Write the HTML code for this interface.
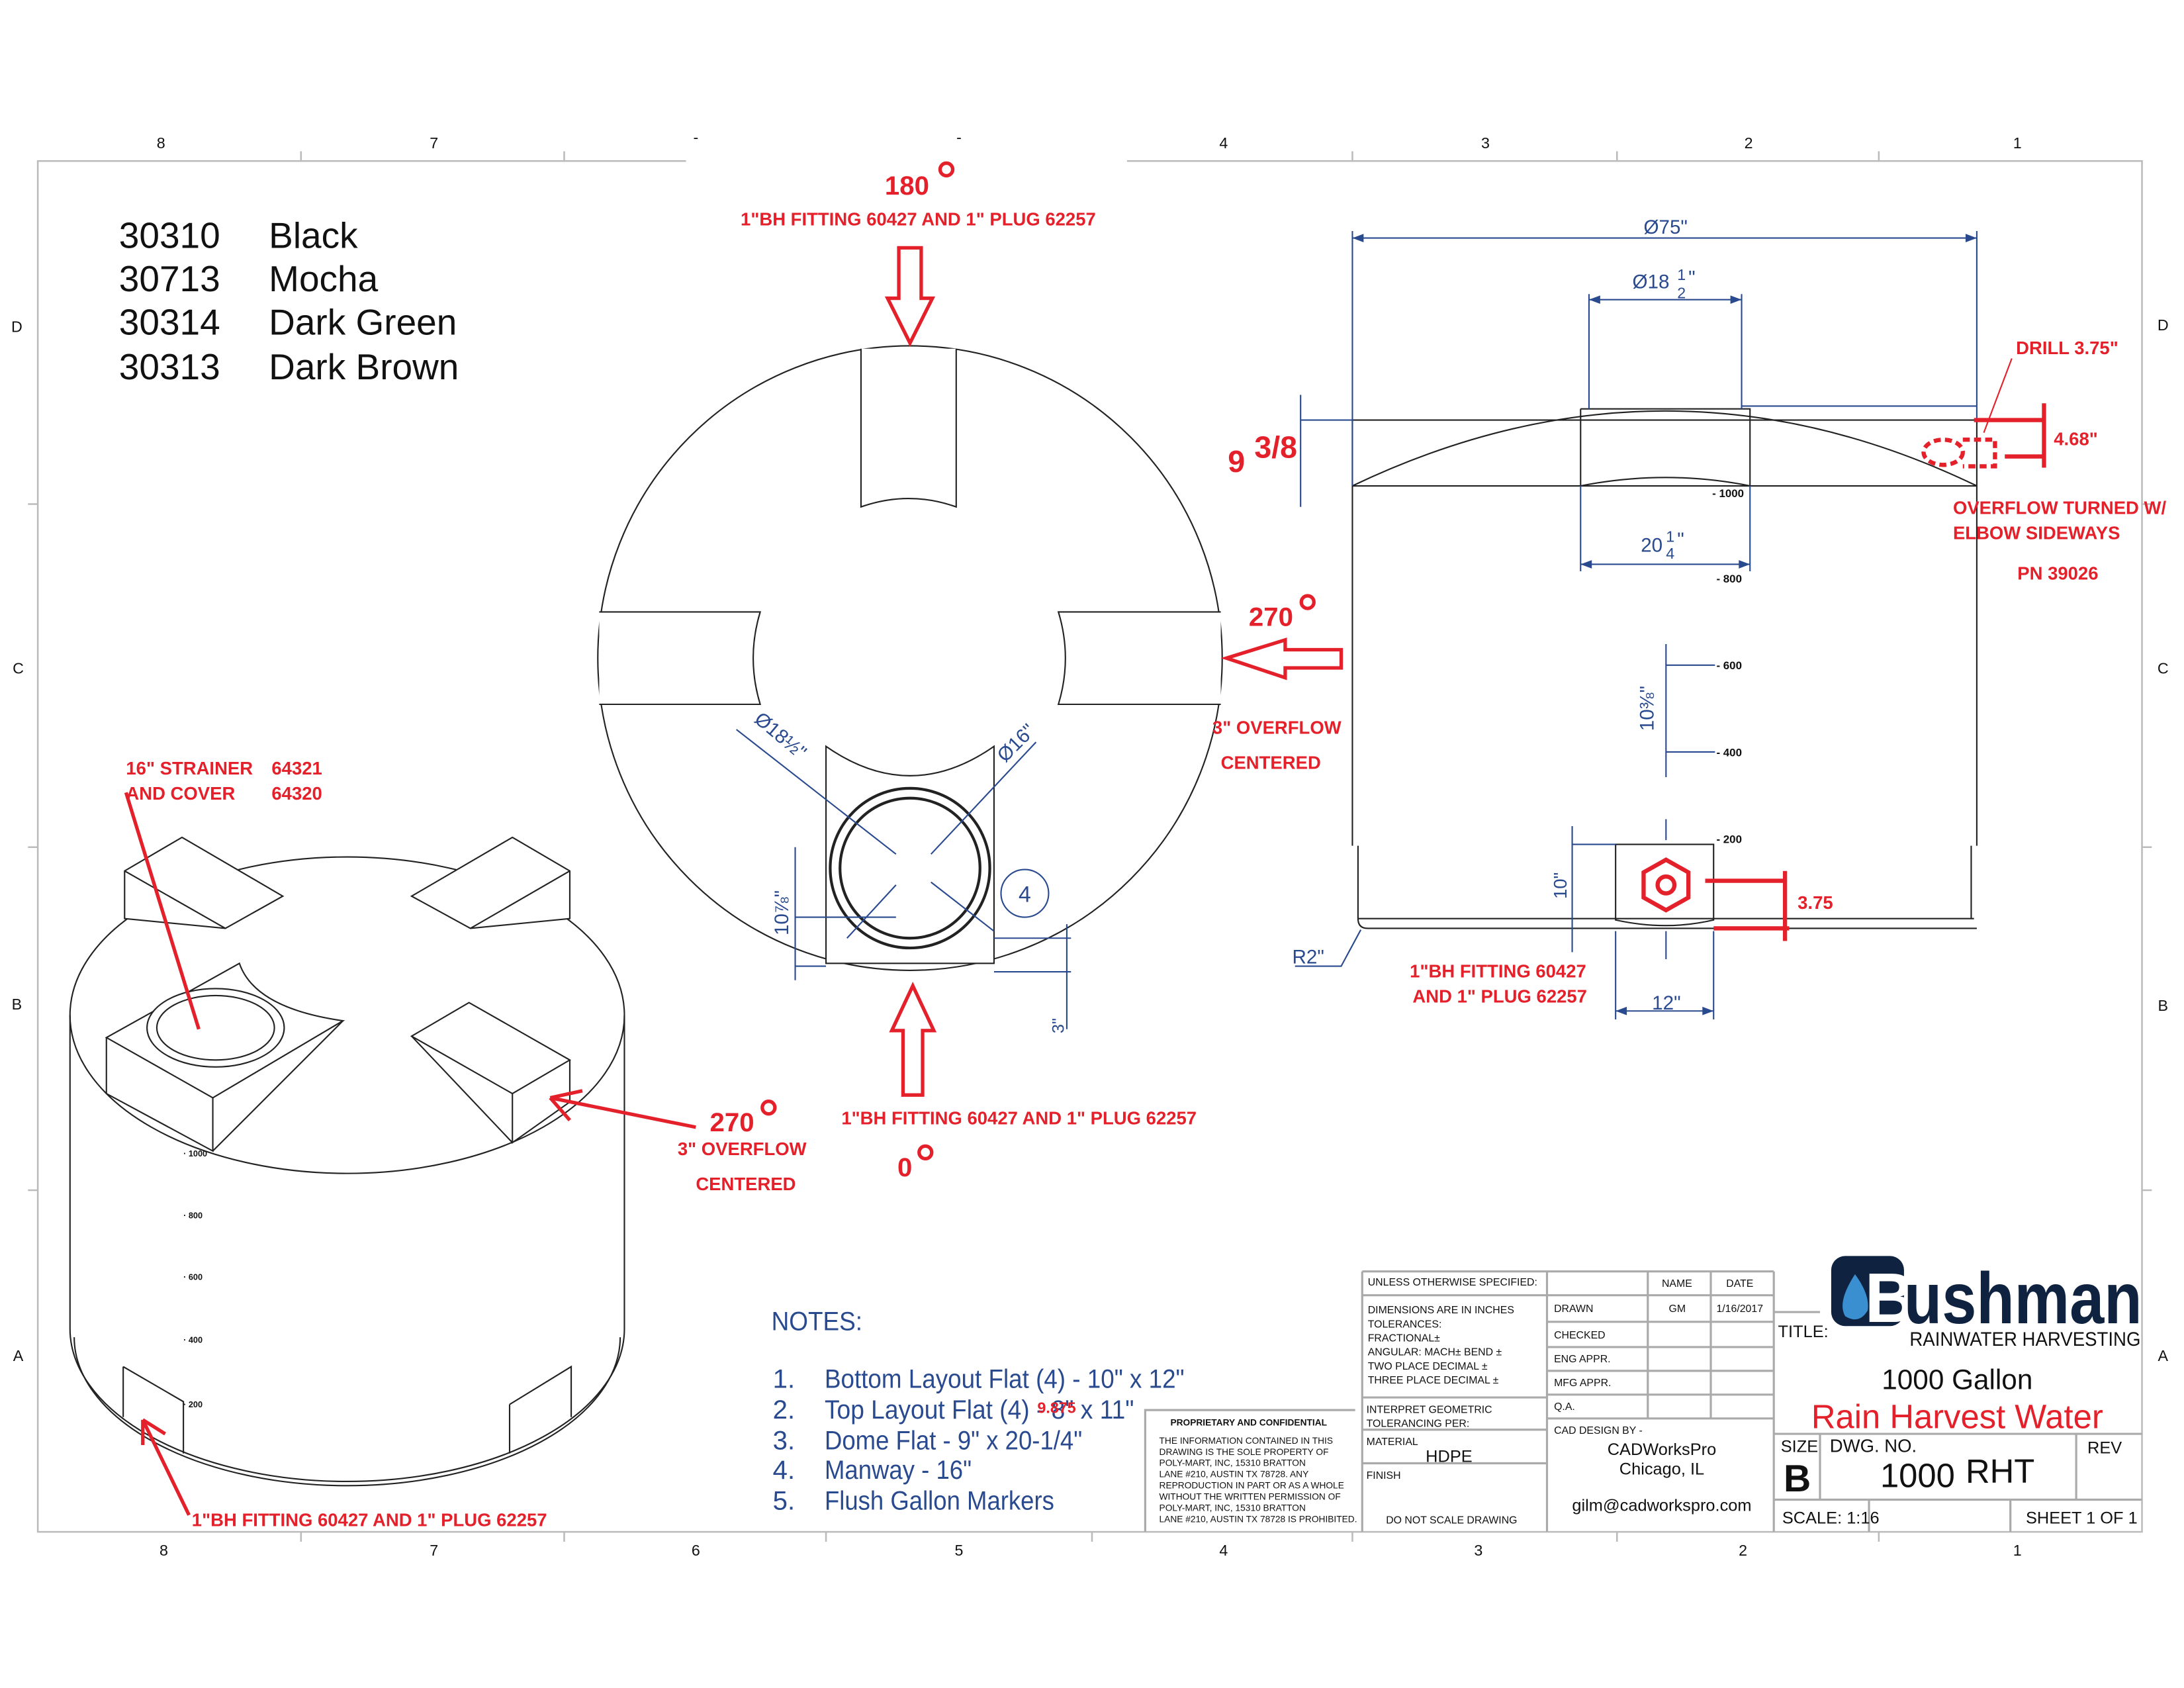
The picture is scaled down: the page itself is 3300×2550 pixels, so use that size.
<!DOCTYPE html>
<html><head><meta charset="utf-8">
<style>
html,body{margin:0;padding:0;background:#fff;}
svg{display:block;}
.r{fill:#e4202a;font-family:"Liberation Sans",sans-serif;font-weight:bold;}
.b{fill:#2a4a8f;font-family:"Liberation Sans Narrow","Liberation Sans",sans-serif;}
.k{fill:#111;font-family:"Liberation Sans Narrow","Liberation Sans",sans-serif;}
</style></head><body>
<svg width="3300" height="2550" viewBox="0 0 1560 1205.5" preserveAspectRatio="none" xmlns="http://www.w3.org/2000/svg">
<rect width="1560" height="1205.5" fill="#fff"/>
<!-- border -->
<g stroke="#bbb" stroke-width="1.2" fill="none">
<path d="M490 115 H27 V1094 H1530 V115 H805"/>
<path d="M215 108 V115 M403 108 V115 M966 108 V115 M1155 108 V115 M1342 108 V115 M215 1094 V1101 M403 1094 V1101 M590 1094 V1101 M780 1094 V1101 M966 1094 V1101 M1155 1094 V1101 M1342 1094 V1101 M20 360 H27 M20 605 H27 M20 850 H27 M1530 360 H1537 M1530 605 H1537 M1530 850 H1537"/>
</g>
<g class="k" font-size="11" text-anchor="middle" fill="#333">
<text x="115" y="106">8</text><text x="310" y="106">7</text><text x="497" y="102">-</text><text x="685" y="102">-</text><text x="874" y="106">4</text><text x="1061" y="106">3</text><text x="1249" y="106">2</text><text x="1441" y="106">1</text>
<text x="117" y="1111">8</text><text x="310" y="1111">7</text><text x="497" y="1111">6</text><text x="685" y="1111">5</text><text x="874" y="1111">4</text><text x="1056" y="1111">3</text><text x="1245" y="1111">2</text><text x="1441" y="1111">1</text>
<text x="12" y="237">D</text><text x="13" y="481">C</text><text x="12" y="721">B</text><text x="13" y="972">A</text>
<text x="1545" y="236">D</text><text x="1545" y="481">C</text><text x="1545" y="722">B</text><text x="1545" y="972">A</text>
</g>
<!-- color list -->
<g class="k" font-size="26" fill="#111">
<text x="85" y="177">30310</text><text x="192" y="177">Black</text>
<text x="85" y="208">30713</text><text x="192" y="208">Mocha</text>
<text x="85" y="239">30314</text><text x="192" y="239">Dark Green</text>
<text x="85" y="271">30313</text><text x="192" y="271">Dark Brown</text>
</g>

<!-- circle plan view -->
<g stroke="#222" stroke-width="1" fill="none">
<circle cx="650" cy="470" r="223"/>
<path d="M615 249 V362 Q649 350 683 362 V249" fill="#fff"/>
<path d="M428 437 H543 Q533 470 543 503 H428" fill="#fff"/>
<path d="M872 437 H756 Q766 470 756 503 H872" fill="#fff"/>
<path d="M590 533 Q650 575 710 533 V688 H590 Z" fill="#fff"/>
<circle cx="650" cy="620" r="57" stroke-width="2"/>
<circle cx="650" cy="620" r="50" stroke-width="2"/>
</g>
<g stroke="#2a4a8f" stroke-width="1" fill="none">
<path d="M526 521 L640 610 M665 630 L710 665 M665 610 L740 530 M605 670 L640 632"/>
<path d="M568 655 H640 M568 690 H590 M568 605 V700 M710 670 H765 M710 694 H765 M762 660 V735"/>
<circle cx="732" cy="638" r="17"/>
</g>
<text class="b" x="732" y="644" font-size="16" text-anchor="middle">4</text>
<text class="b" font-size="14" transform="translate(538,515) rotate(40)">Ø18½"</text>
<text class="b" font-size="14" transform="translate(718,545) rotate(-45)">Ø16"</text>
<text class="b" font-size="14" transform="translate(563,668) rotate(-90)">10⅞"</text>
<text class="b" font-size="12" transform="translate(760,738) rotate(-90)">3"</text>

<!-- red arrows plan -->
<g stroke="#e4202a" stroke-width="2.5" fill="none" stroke-linejoin="miter">
<path d="M642 177 H658 V213 H666 L650 245 L634 213 H642 Z"/>
<path d="M645 782 H659 V736 H667 L652 704 L637 736 H645 Z"/>
<path d="M958 464 V477 H918 V484 L876 470 L918 457 V464 Z"/>
</g>
<g class="r" font-size="19">
<text x="632" y="139">180</text><text x="892" y="447">270</text><text x="641" y="840">0</text>
</g>
<g stroke="#e4202a" stroke-width="2.5" fill="none">
<circle cx="676" cy="121" r="4.5"/><circle cx="934" cy="430" r="4.5"/><circle cx="661" cy="823" r="4.5"/><circle cx="549" cy="791" r="4.5"/>
</g>
<g class="r" font-size="13">
<text x="529" y="161">1"BH FITTING 60427 AND 1" PLUG 62257</text>
<text x="866" y="524">3" OVERFLOW</text><text x="872" y="549">CENTERED</text>
<text x="601" y="803">1"BH FITTING 60427 AND 1" PLUG 62257</text>
</g>

<!-- right elevation -->
<g stroke="#222" stroke-width="1" fill="none">
<path d="M966 300 H1412 M966 300 V347 M1412 300 V347"/>
<path d="M966 347 Q1190 240 1412 347"/>
<path d="M1129 292 H1250 V347 M1129 292 V347"/>
<path d="M1129 347 Q1190 335 1250 347"/>
<path d="M966 347 H1412 M966 347 V604 M1412 347 V604 M970 604 V656 Q970 663 977 663 H1412 M1408 604 V656 M970 656 H1410"/>
<path d="M1154 603 H1224 V657 Q1190 665 1154 657 Z"/>
</g>
<g stroke="#2a4a8f" stroke-width="1" fill="none">
<path d="M966 347 V165 M1412 300 V165 M966 170 H1412 M1244 290 H1412"/>
<path d="M1135 292 V210 M1244 292 V210 M1135 214 H1244"/>
<path d="M1129 347 V408 M1250 347 V408 M1129 403 H1250"/>
<path d="M1190 460 V555 M1190 475 H1225 M1190 537 H1225"/>
<path d="M1123 590 V680 M1123 603 H1154 M1190 585 V600 M1190 665 V685 M1154 665 V728 M1224 665 V728 M1154 722 H1224"/>
<path d="M929 282 V362 M929 300 H966"/>
<path d="M925 690 H958 L972 664"/>
</g>
<g fill="#2a4a8f">
<path d="M966 170 l8 -3 v6 z M1412 170 l-8 -3 v6z M1135 214 l8 -3 v6z M1244 214 l-8 -3 v6z M1129 403 l8 -3 v6z M1250 403 l-8 -3 v6z M1154 722 l8 -3 v6z M1224 722 l-8 -3 v6z"/>
</g>
<g class="b" font-size="14">
<text x="1174" y="167">Ø75"</text>
<text x="1166" y="206">Ø18</text><text x="1198" y="200" font-size="11">1</text><text x="1198" y="213" font-size="11">2</text><text x="1206" y="203">"</text>
<text x="1172" y="394">20</text><text x="1190" y="387" font-size="11">1</text><text x="1190" y="399" font-size="11">4</text><text x="1198" y="390">"</text>
<text x="1180" y="721">12"</text><text x="923" y="688">R2"</text>
</g>
<text class="b" font-size="14" transform="translate(1181,522) rotate(-90)">10⅜"</text>
<text class="b" font-size="13" transform="translate(1119,642) rotate(-90)">10"</text>
<g class="k" font-size="8" font-weight="bold">
<text x="1223" y="355">- 1000</text><text x="1226" y="416">- 800</text><text x="1226" y="478">- 600</text><text x="1226" y="540">- 400</text><text x="1226" y="602">- 200</text>
</g>
<!-- red details right -->
<g stroke="#e4202a" stroke-width="3" fill="none">
<polygon points="1190,614 1206,623 1206,641 1190,650 1174,641 1174,623"/>
<circle cx="1190" cy="632" r="6"/>
<path d="M1218 629 H1275 M1224 663 H1278 M1275 622 V672"/>
<path d="M1410 300 H1460 M1432 326 H1460 M1460 288 V334"/>
<ellipse cx="1388" cy="323" rx="14" ry="9" stroke-dasharray="5 3"/>
<path d="M1402 314 H1425 V333 H1402" stroke-dasharray="5 3"/>
</g>
<path d="M1417 309 L1437 256" stroke="#e4202a" stroke-width="1"/>
<g class="r" font-size="13">
<text x="1440" y="253">DRILL 3.75"</text><text x="1467" y="318">4.68"</text>
<text x="1395" y="367">OVERFLOW TURNED W/</text><text x="1395" y="385">ELBOW SIDEWAYS</text>
<text x="1441" y="414">PN 39026</text><text x="1284" y="649">3.75</text>
<text x="1007" y="698">1"BH FITTING 60427</text><text x="1009" y="716">AND 1" PLUG 62257</text>
</g>
<text class="r" x="877" y="337" font-size="22">9</text>
<text class="r" x="896" y="327" font-size="22">3/8</text>

<!-- 3D view -->
<g stroke="#222" stroke-width="1" fill="none">
<ellipse cx="248" cy="725" rx="198" ry="113" fill="#fff"/>
<path d="M50 725 V949 A198 109 0 0 0 446 949 V725"/>
<path d="M53 955 A195 106 0 0 0 443 955"/>
<path d="M89 656 L89 622 L130 598 L202 640 L161 663 Z" fill="#fff"/>
<path d="M89 622 L161 663"/>
<path d="M294 640 L366 598 L407 622 L407 656 L336 663 Z" fill="#fff"/>
<path d="M336 663 L407 622"/>
<path d="M76 741 L171 688 Q182 720 245 729 L152 784 Z" fill="#fff"/>
<path d="M76 741 V781 L152 822 V784 M152 822 L245 729"/>
<ellipse cx="154" cy="734" rx="49" ry="28" fill="#fff"/>
<ellipse cx="154" cy="734" rx="42" ry="23"/>
<path d="M294 740 L335 716 L407 757 L366 781 Z" fill="#fff"/>
<path d="M366 781 V816 L407 787 V757 M294 740 L366 816"/>
<path d="M88 976 V1012 M88 976 L131 1001 V1038 M364 1003 V1038 M364 1003 L408 976 V1012"/>
</g>
<g class="k" font-size="6" font-weight="bold">
<text x="131" y="826">· 1000</text><text x="131" y="870">· 800</text><text x="131" y="914">· 600</text><text x="131" y="959">· 400</text><text x="131" y="1005">· 200</text>
</g>
<g stroke="#e4202a" stroke-width="2.5" fill="none">
<path d="M90 566 L142 735"/>
<path d="M497 805 L393 784 M393 784 L416 779 M393 784 L407 800"/>
<path d="M135 1082 L102 1014 M102 1014 L118 1024 M102 1014 L102 1032"/>
</g>
<g class="r" font-size="13">
<text x="90" y="553">16" STRAINER</text><text x="194" y="553">64321</text>
<text x="90" y="571">AND COVER</text><text x="194" y="571">64320</text>
<text x="484" y="825">3" OVERFLOW</text><text x="497" y="850">CENTERED</text>
<text x="137" y="1090">1"BH FITTING 60427 AND 1" PLUG 62257</text>
</g>
<text class="r" x="507" y="808" font-size="19">270</text>

<!-- notes -->
<g class="b" font-size="19">
<text x="551" y="950" textLength="65" lengthAdjust="spacingAndGlyphs">NOTES:</text>
<text x="552" y="991">1.</text><text x="589" y="991" textLength="257" lengthAdjust="spacingAndGlyphs">Bottom Layout Flat (4) - 10" x 12"</text>
<text x="552" y="1013">2.</text><text x="589" y="1013" textLength="221" lengthAdjust="spacingAndGlyphs">Top Layout Flat (4) - 8" x 11"</text>
<text x="552" y="1035">3.</text><text x="589" y="1035" textLength="184" lengthAdjust="spacingAndGlyphs">Dome Flat - 9" x 20-1/4"</text>
<text x="552" y="1056">4.</text><text x="589" y="1056" textLength="105" lengthAdjust="spacingAndGlyphs">Manway - 16"</text>
<text x="552" y="1078">5.</text><text x="589" y="1078" textLength="164" lengthAdjust="spacingAndGlyphs">Flush Gallon Markers</text>
</g>
<text class="r" x="741" y="1009" font-size="11" font-weight="normal">9.875</text>

<!-- proprietary -->
<g stroke="#aaa" stroke-width="1.5" fill="none">
<path d="M818 1094 V1007 H968"/>
</g>
<g class="k" font-size="6.5" fill="#222">
<text x="836" y="1018" font-weight="bold">PROPRIETARY AND CONFIDENTIAL</text>
<text x="828" y="1031">THE INFORMATION CONTAINED IN THIS</text>
<text x="828" y="1039">DRAWING IS THE SOLE PROPERTY OF</text>
<text x="828" y="1047">POLY-MART, INC, 15310 BRATTON</text>
<text x="828" y="1055">LANE #210, AUSTIN TX 78728. ANY</text>
<text x="828" y="1063">REPRODUCTION IN PART OR AS A WHOLE</text>
<text x="828" y="1071">WITHOUT THE WRITTEN PERMISSION OF</text>
<text x="828" y="1079">POLY-MART, INC, 15310 BRATTON</text>
<text x="828" y="1087">LANE #210, AUSTIN TX 78728 IS PROHIBITED.</text>
</g>

<!-- title block -->
<g stroke="#aaa" stroke-width="1.5" fill="none">
<path d="M973 908 H1267 M973 908 V1094 M1105 908 V1094 M1177 908 V1013 M1222 908 V1013 M1267 908 V1094"/>
<path d="M973 925 H1105 M1105 925 H1267 M1105 944 H1267 M1105 962 H1267 M1105 979 H1267 M1105 996 H1267 M1105 1013 H1267"/>
<path d="M973 998 H1105 M973 1021 H1105 M973 1045 H1105"/>
<path d="M1267 1024 H1530 M1267 1071 H1530 M1300 1024 V1071 M1483 1024 V1071 M1335 1071 V1094 M1436 1071 V1094 M1267 937 H1300"/>
</g>
<g class="k" font-size="7.5" fill="#333">
<text x="977" y="918">UNLESS OTHERWISE SPECIFIED:</text>
<text x="1187" y="919">NAME</text><text x="1233" y="919">DATE</text>
<text x="977" y="938">DIMENSIONS ARE IN INCHES</text>
<text x="977" y="948">TOLERANCES:</text>
<text x="977" y="958">FRACTIONAL±</text>
<text x="977" y="968">ANGULAR: MACH±   BEND ±</text>
<text x="977" y="978">TWO PLACE DECIMAL   ±</text>
<text x="977" y="988">THREE PLACE DECIMAL  ±</text>
<text x="976" y="1009">INTERPRET GEOMETRIC</text>
<text x="976" y="1019">TOLERANCING PER:</text>
<text x="976" y="1032">MATERIAL</text>
<text x="976" y="1056">FINISH</text>
<text x="990" y="1088">DO NOT SCALE DRAWING</text>
<text x="1110" y="937">DRAWN</text><text x="1192" y="937">GM</text><text x="1226" y="937">1/16/2017</text>
<text x="1110" y="956">CHECKED</text><text x="1110" y="973">ENG APPR.</text><text x="1110" y="990">MFG APPR.</text><text x="1110" y="1007">Q.A.</text>
<text x="1110" y="1024">CAD DESIGN BY -</text>
</g>
<g class="k" font-size="12" fill="#222" text-anchor="middle">
<text x="1035" y="1044">HDPE</text>
<text x="1187" y="1039">CADWorksPro</text><text x="1187" y="1053">Chicago, IL</text>
<text x="1187" y="1079">gilm@cadworkspro.com</text>
</g>
<text class="k" x="1270" y="955" font-size="12">TITLE:</text>
<!-- logo -->
<rect x="1308" y="897" width="52" height="50" rx="10" fill="#0f2340"/>
<path d="M1325 910 Q1312 930 1318 940 Q1328 946 1334 936 Q1336 925 1325 910Z" fill="#3a8fd0"/>
<text x="1332" y="944" font-size="50" font-weight="bold" fill="#fff" font-family="Liberation Sans Narrow,Liberation Sans,sans-serif">B</text>
<text x="1360" y="945" font-size="52" font-weight="bold" fill="#0f2340" font-family="Liberation Sans Narrow,Liberation Sans,sans-serif" textLength="170" lengthAdjust="spacingAndGlyphs">ushman</text>
<text x="1364" y="961" font-size="14" fill="#222" class="k" textLength="165" lengthAdjust="spacingAndGlyphs">RAINWATER HARVESTING</text>
<text class="k" x="1398" y="992" font-size="20" text-anchor="middle">1000 Gallon</text>
<text x="1398" y="1020" font-size="24" text-anchor="middle" fill="#e4202a" font-family="Liberation Sans Narrow,Liberation Sans,sans-serif">Rain Harvest Water</text>
<g class="k" fill="#222">
<text x="1272" y="1037" font-size="12">SIZE</text>
<text x="1307" y="1037" font-size="13">DWG.  NO.</text>
<text x="1491" y="1038" font-size="12">REV</text>
<text x="1274" y="1065" font-size="27" font-weight="bold">B</text>
<text x="1343" y="1062" font-size="24">1000</text>
<text x="1404" y="1059" font-size="24">RHT</text>
<text x="1273" y="1088" font-size="12">SCALE: 1:16</text>
<text x="1447" y="1088" font-size="12">SHEET 1 OF 1</text>
</g>
</svg>
</body></html>
